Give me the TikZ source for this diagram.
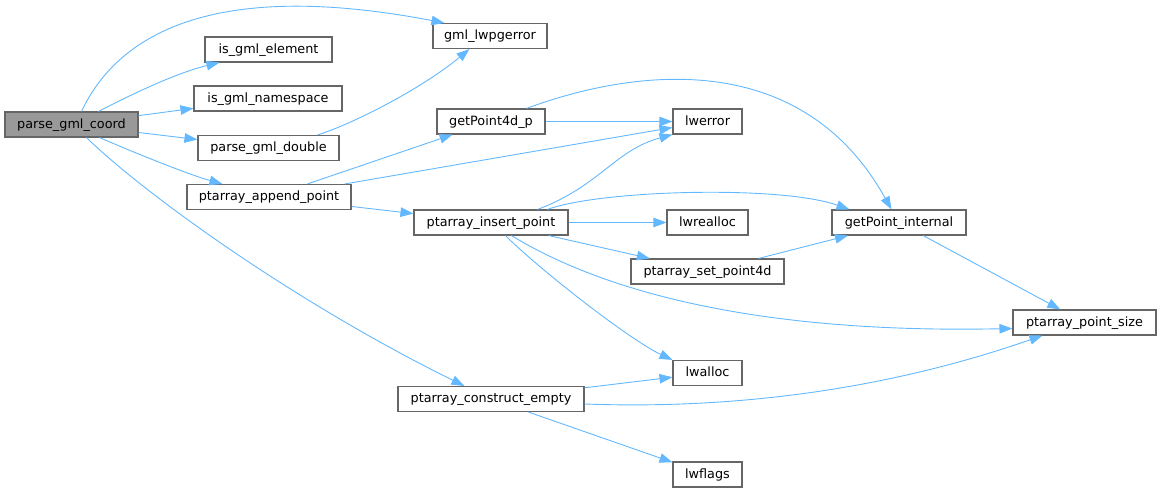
\documentclass[tikz,border=0pt]{standalone}
\usepackage{fontspec}
\setmainfont{DejaVu Sans}
\usetikzlibrary{arrows.meta}
\definecolor{edgec}{HTML}{63B8FF}
\definecolor{bord}{HTML}{666666}
\definecolor{rootf}{HTML}{999999}
\begin{document}
\begin{tikzpicture}[x=1pt,y=-1pt,
  fn/.style={draw=bord, line width=1.1pt, fill=white, minimum height=25pt, inner sep=0pt,
    font=\fontsize{12.8}{15}\selectfont, text height=9.6pt, text depth=2.6pt, anchor=center},
  root/.style={fn, fill=rootf},
  call/.style={draw=edgec, line width=0.9pt, -{Triangle[length=13pt,width=9.5pt]}}]
\useasboundingbox (0,0) rectangle (1161,493);

% nodes
\node[root, minimum width=133pt] (pgc)  at (71.5,124.5) {parse\_gml\_coord};
\node[fn, minimum width=114pt]   (gle)  at (490,36)     {gml\_lwpgerror};
\node[fn, minimum width=127pt]   (ige)  at (268.5,49.5) {is\_gml\_element};
\node[fn, minimum width=148pt]   (ign)  at (268,98.5)   {is\_gml\_namespace};
\node[fn, minimum width=141pt]   (pgd)  at (268.5,148)  {parse\_gml\_double};
\node[fn, minimum width=164pt]   (pap)  at (269,197)    {ptarray\_append\_point};
\node[fn, minimum width=108pt]   (gfp)  at (491,121.5)  {getPoint4d\_p};
\node[fn, minimum width=69pt]    (lwe)  at (707.5,121.5){lwerror};
\node[fn, minimum width=154pt]   (pip)  at (491,222.5)  {ptarray\_insert\_point};
\node[fn, minimum width=81pt]    (lwr)  at (707.5,222.5){lwrealloc};
\node[fn, minimum width=134pt]   (gpi)  at (899,222.5)  {getPoint\_internal};
\node[fn, minimum width=153pt]   (psp)  at (707.5,271.5){ptarray\_set\_point4d};
\node[fn, minimum width=143pt]   (pps)  at (1084.5,322.5){ptarray\_point\_size};
\node[fn, minimum width=69pt]    (lwa)  at (707.5,373)  {lwalloc};
\node[fn, minimum width=186pt]   (pce)  at (491,399)    {ptarray\_construct\_empty};
\node[fn, minimum width=69pt]    (lwf)  at (707.5,474.5){lwflags};

% edges from parse_gml_coord
\draw[call] ([xshift=77pt]pgc.north west) .. controls (120,30) and (220,-20) .. ([xshift=12pt]gle.north west);
\draw[call] ([xshift=94pt]pgc.north west) .. controls (140,90) and (180,72) .. ([xshift=15pt]ige.south west);
\draw[call] (pgc) -- (ign);
\draw[call] (pgc) -- (pgd);
\draw[call] ([xshift=95pt]pgc.south west) .. controls (140,155) and (190,175) .. ([xshift=36pt]pap.north west);
\draw[call] ([xshift=82pt]pgc.south west) .. controls (140,190) and (290,300) .. ([xshift=67pt]pce.north west);

% parse_gml_double
\draw[call] ([xshift=120pt]pgd.north west) .. controls (350,125) and (420,90) .. ([xshift=37pt]gle.south west);

% ptarray_append_point
\draw[call] (pap) -- (gfp);
\draw[call] (pap) -- (lwe);
\draw[call] (pap) -- (pip);

% getPoint4d_p
\draw[call] (gfp) -- (lwe);
\draw[call] ([xshift=90pt]gfp.north west) .. controls (630,70) and (800,45) .. ([xshift=60pt]gpi.north west);

% ptarray_insert_point
\draw[call] ([xshift=124pt]pip.north west) .. controls (600,186) and (615,150) .. (lwe.south west);
\draw[call] ([xshift=134pt]pip.north west) .. controls (600,190) and (780,185) .. ([xshift=18pt]gpi.north west);
\draw[call] (pip) -- (lwr);
\draw[call] (pip) -- (psp);
\draw[call] ([xshift=92pt]pip.south west) .. controls (540,270) and (630,340) .. (lwa.north west);
\draw[call] ([xshift=98pt]pip.south west) .. controls (565,268) and (700,335) .. ([yshift=-6pt]pps.west);

% ptarray_set_point4d, getPoint_internal
\draw[call] (psp) -- (gpi);
\draw[call] (gpi) -- (pps);

% ptarray_construct_empty
\draw[call] (pce) -- (lwa);
\draw[call] ([yshift=-5pt]pce.east) .. controls (750,410) and (900,385) .. ([xshift=30pt]pps.south west);
\draw[call] (pce) -- (lwf);
\end{tikzpicture}
\end{document}
